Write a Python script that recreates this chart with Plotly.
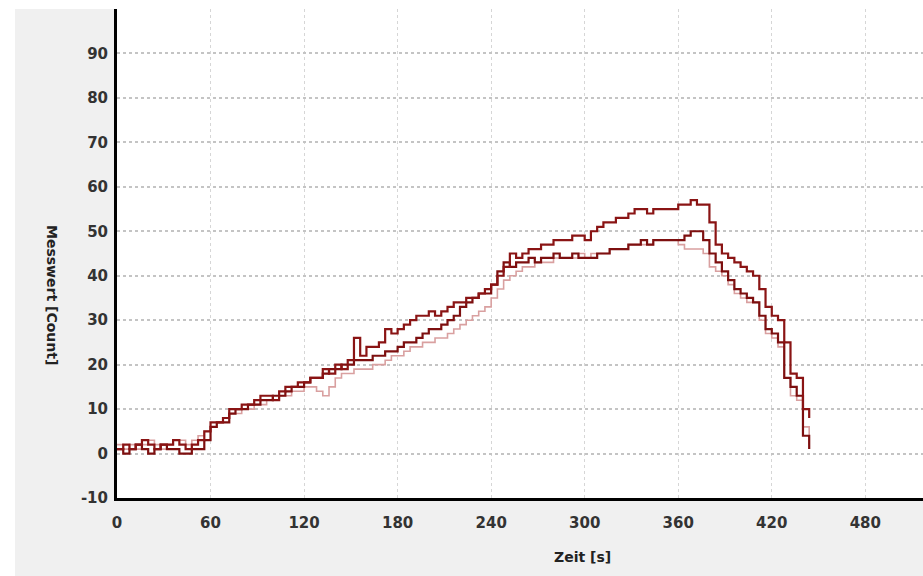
import plotly.graph_objects as go

# Time axis [s]
zeit = [
    0, 4, 8, 12, 16, 20, 24, 28, 32, 36,
    40, 44, 48, 52, 56, 60, 64, 68, 72, 76,
    80, 84, 88, 92, 96, 100, 104, 108, 112, 116,
    120, 124, 128, 132, 136, 140, 144, 148, 152, 156,
    160, 164, 168, 172, 176, 180, 184, 188, 192, 196,
    200, 204, 208, 212, 216, 220, 224, 228, 232, 236,
    240, 244, 248, 252, 256, 260, 264, 268, 272, 276,
    280, 284, 288, 292, 296, 300, 304, 308, 312, 316,
    320, 324, 328, 332, 336, 340, 344, 348, 352, 356,
    360, 364, 368, 372, 376, 380, 384, 388, 392, 396,
    400, 404, 408, 412, 416, 420, 424, 428, 432, 436,
    440, 444,
]

messung_a = [
    1, 2, 1, 2, 3, 2, 1, 2, 2, 3,
    2, 1, 2, 3, 5, 7, 7, 8, 10, 10,
    11, 11, 12, 13, 13, 12, 14, 15, 15, 16,
    16, 17, 17, 19, 18, 20, 19, 21, 26, 22,
    24, 24, 25, 28, 27, 28, 29, 30, 31, 31,
    32, 31, 32, 33, 34, 34, 35, 35, 36, 37,
    38, 40, 42, 45, 44, 45, 46, 46, 47, 47,
    48, 48, 48, 49, 49, 48, 50, 51, 52, 52,
    53, 53, 54, 55, 55, 54, 55, 55, 55, 55,
    56, 56, 57, 56, 56, 52, 47, 45, 44, 43,
    42, 41, 40, 37, 33, 31, 30, 25, 18, 17,
    10, 8,
]

messung_b = [
    1, 0, 1, 2, 1, 0, 1, 2, 1, 1,
    0, 0, 1, 1, 3, 6, 7, 7, 9, 10,
    10, 11, 11, 12, 12, 13, 13, 14, 15, 15,
    16, 17, 17, 18, 19, 19, 20, 20, 21, 21,
    21, 22, 22, 23, 23, 24, 25, 25, 26, 27,
    28, 28, 29, 30, 31, 33, 34, 35, 36, 36,
    38, 41, 43, 42, 43, 43, 44, 43, 44, 44,
    45, 44, 44, 45, 44, 44, 44, 45, 45, 46,
    46, 46, 47, 47, 48, 47, 48, 48, 48, 48,
    48, 49, 50, 50, 48, 45, 43, 41, 39, 37,
    36, 35, 34, 31, 28, 27, 25, 17, 15, 13,
    4, 1,
]

messung_c = [
    2, 1, 2, 1, 2, 3, 2, 1, 2, 3,
    3, 2, 3, 4, 5, 6, 7, 8, 9, 9,
    10, 10, 11, 11, 12, 12, 13, 13, 14, 14,
    15, 15, 14, 13, 15, 17, 18, 18, 19, 19,
    19, 20, 20, 21, 22, 22, 23, 24, 24, 25,
    25, 26, 26, 27, 28, 29, 30, 31, 32, 33,
    35, 37, 39, 40, 41, 42, 42, 43, 43, 43,
    44, 44, 44, 44, 45, 44, 45, 45, 45, 46,
    46, 46, 47, 47, 47, 47, 48, 48, 48, 48,
    47, 46, 46, 46, 45, 42, 41, 40, 38, 36,
    35, 34, 34, 30, 27, 26, 24, 17, 13, 12,
    6, 2,
]

x_ticks = [0, 60, 120, 180, 240, 300, 360, 420, 480]
y_ticks = [-10, 0, 10, 20, 30, 40, 50, 60, 70, 80, 90]

fig = go.Figure()
fig.add_trace(go.Scatter(x=zeit, y=messung_c, mode="lines", line_shape="hv",
                         line=dict(color="#d9a0a0", width=1.6), showlegend=False))
fig.add_trace(go.Scatter(x=zeit, y=messung_b, mode="lines", line_shape="hv",
                         line=dict(color="#7d0f0f", width=2.2), showlegend=False))
fig.add_trace(go.Scatter(x=zeit, y=messung_a, mode="lines", line_shape="hv",
                         line=dict(color="#8a1414", width=2.2), showlegend=False))

tick_font = dict(family="DejaVu Sans", size=15, color="#333333", weight="bold")

fig.update_layout(
    width=923, height=576,
    margin=dict(l=117, r=0, t=9, b=78),
    paper_bgcolor="#f0f0f0",
    plot_bgcolor="#ffffff",
    showlegend=False,
    xaxis=dict(range=[0, 517], tickvals=x_ticks, ticktext=[str(v) for v in x_ticks],
               showline=True, linecolor="#000000", linewidth=3, mirror=False,
               showgrid=True, gridcolor="#d6d6d6", gridwidth=1, griddash="dot",
               zeroline=False, ticks="", tickfont=tick_font, ticklabelstandoff=9),
    yaxis=dict(range=[-10, 100], tickvals=y_ticks + [100], ticktext=[str(v) for v in y_ticks] + [""],
               showline=True, linecolor="#000000", linewidth=3, mirror=False,
               showgrid=True, gridcolor="#c4c4c4", gridwidth=2, griddash="dot",
               zeroline=False, ticks="", tickfont=tick_font, ticklabelstandoff=3),
    shapes=[
        dict(type="rect", xref="paper", yref="paper", x0=-0.1452, x1=-0.1266,
             y0=-0.1595, y1=1.0184, fillcolor="#ffffff", line=dict(width=0), layer="below"),
        dict(type="rect", xref="paper", yref="paper", x0=-0.1452, x1=1.0,
             y0=1.0, y1=1.0184, fillcolor="#ffffff", line=dict(width=0), layer="below"),
    ],
    annotations=[
        dict(text="Messwert [Count]", xref="paper", yref="paper", x=-0.0806, y=0.415,
             textangle=90, showarrow=False, xanchor="center", yanchor="middle",
             font=dict(family="DejaVu Sans", size=14, color="#222222", weight="bold")),
        dict(text="Zeit [s]", xref="paper", yref="paper", x=0.577, y=-0.1207,
             showarrow=False, xanchor="center", yanchor="middle",
             font=dict(family="DejaVu Sans", size=14, color="#222222", weight="bold")),
    ],
)

fig.write_html(
    "out.html",
    config={"displayModeBar": False},
    post_script="document.body.style.margin='0';document.body.style.overflow='hidden';",
)
